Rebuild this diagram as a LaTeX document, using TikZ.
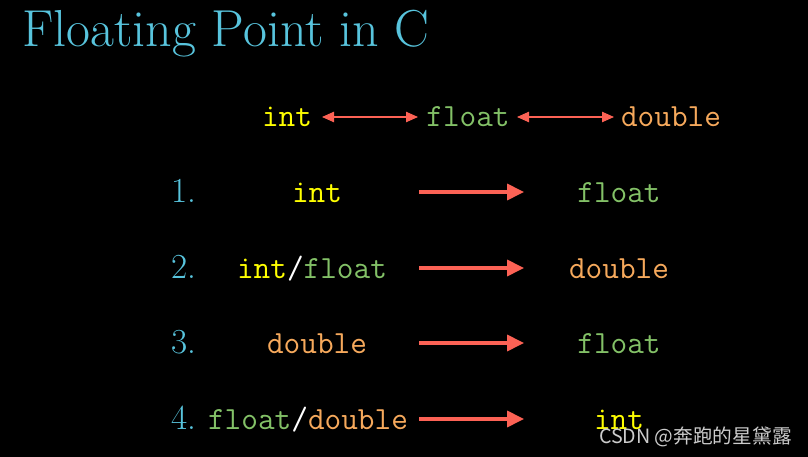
\documentclass[tikz,border=0pt]{standalone}
\usepackage{fontspec}
\newfontfamily\cjkfont{Noto Sans CJK SC}
\usepackage{tikz}
\usetikzlibrary{arrows.meta}

\definecolor{titleblue}{HTML}{58C4DD}
\definecolor{kwyellow}{HTML}{FFFF00}
\definecolor{kwgreen}{HTML}{83C167}
\definecolor{kworange}{HTML}{F6A95C}
\definecolor{arrowred}{HTML}{FC6255}

\newcommand{\kwint}{\textcolor{kwyellow}{int}}
\newcommand{\kwfloat}{\textcolor{kwgreen}{float}}
\newcommand{\kwdouble}{\textcolor{kworange}{double}}
\newcommand{\kwsep}{\textcolor{white}{/}}

\tikzset{
    kw/.style={font=\fontsize{23}{27}\selectfont\ttfamily, anchor=base, inner sep=0pt},
    numlabel/.style={font=\fontsize{25}{29}\selectfont, text=titleblue, anchor=base, inner sep=0pt},
    thinarrow/.style={arrowred, line width=0.8pt, {Triangle[length=0.3cm, width=0.26cm]}-{Triangle[length=0.3cm, width=0.26cm]}},
    thickarrow/.style={arrowred, line width=2.2pt, -{Triangle[length=0.42cm, width=0.4cm]}}
}

\begin{document}
\begin{tikzpicture}[x=0.025cm, y=-0.025cm]
    % background
    \fill[black] (0, 0) rectangle (808, 457);
    \useasboundingbox (0, 0) rectangle (808, 457);

    % title
    \node[font=\fontsize{37}{44}\selectfont, text=titleblue, anchor=base west, inner sep=0pt] (title) at (22, 47) {Floating Point in C};

    % top row: int <-> float <-> double
    \node[kw] (ti) at (287, 127) {\kwint};
    \node[kw] (tf) at (468, 127) {\kwfloat};
    \node[kw] (td) at (671, 127) {\kwdouble};
    \coordinate (ta1) at (322, 117);
    \coordinate (tb1) at (418, 117);
    \coordinate (ta2) at (517, 117);
    \coordinate (tb2) at (614, 117);
    \draw[thinarrow] (ta1) -- (tb1);
    \draw[thinarrow] (ta2) -- (tb2);

    % conversions
    \foreach \i/\y/\x/\lft/\rgt in {1/203/317/{\kwint}/{\kwfloat},
                                    2/279/312/{\kwint\kwsep\kwfloat}/{\kwdouble},
                                    3/354/317/{\kwdouble}/{\kwfloat},
                                    4/430/308/{\kwfloat\kwsep\kwdouble}/{\kwint}} {
        \node[numlabel] (n\i) at (184, \y) {\i.};
        \node[kw] (l\i) at (\x, \y) {\lft};
        \node[kw] (r\i) at (619, \y) {\rgt};
        \coordinate (a\i) at (419, \y-11);
        \coordinate (b\i) at (524, \y-11);
        \draw[thickarrow] (a\i) -- (b\i);
    }

    % watermark
    \node[font=\cjkfont\fontsize{14}{17}\selectfont, text=white!80!black, anchor=base east, inner sep=0pt] (mark) at (792, 444) {CSDN @奔跑的星黛露};
\end{tikzpicture}
\end{document}
